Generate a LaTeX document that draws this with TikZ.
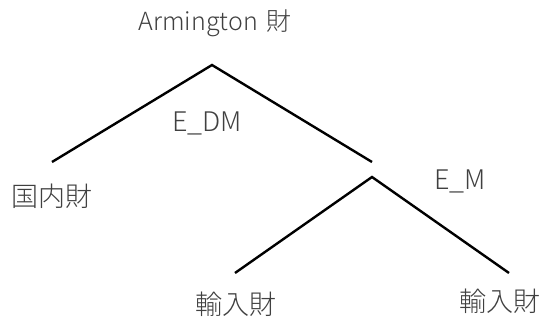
\documentclass[tikz,border=0pt]{standalone}
\usepackage{fontspec}
\setmainfont{Noto Sans CJK JP}[UprightFont=* Light]
\begin{document}
\begin{tikzpicture}[x=1pt,y=-1pt,
  lbl/.style={font=\fontsize{27}{30}\selectfont, text=black!75, inner sep=0pt},
  br/.style={line width=2.4pt, black}]
\useasboundingbox (0,0) rectangle (544,320);
\coordinate (a) at (212,65);
\coordinate (l) at (52,162);
\coordinate (r) at (372,162);
\coordinate (b) at (372,177);
\coordinate (bl) at (235,273);
\coordinate (br) at (509,273);
\draw[br] (l) -- (a) -- (r);
\draw[br] (bl) -- (b) -- (br);
\node[lbl, font=\fontsize{25}{28}\selectfont] (t) at (215,23) {Armington\,\,財};
\node[lbl] (d) at (52,196) {国内財};
\node[lbl] (edm) at (207,123) {E\_DM};
\node[lbl] (em) at (460,181) {E\_M};
\node[lbl] (m1) at (236,304) {輸入財};
\node[lbl] (m2) at (500,301) {輸入財};
\end{tikzpicture}
\end{document}
